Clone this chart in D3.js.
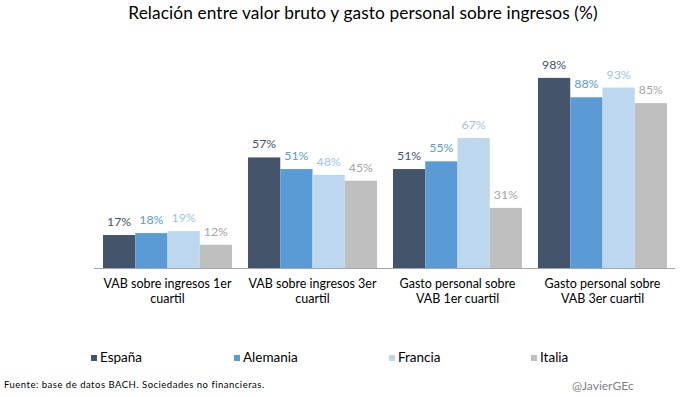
<!DOCTYPE html>
<html>
<head>
<meta charset="utf-8">
<script src="https://cdn.jsdelivr.net/npm/d3@7"></script>
<style>
  body { margin: 0; background: #fff; }
  svg { display: block; font-family: "Lato", "Open Sans", sans-serif; }
</style>
</head>
<body>
<div id="chart"></div>
<script>
// Data.
var categories = [
    ['VAB sobre ingresos 1er', 'cuartil'],
    ['VAB sobre ingresos 3er', 'cuartil'],
    ['Gasto personal sobre', 'VAB 1er cuartil'],
    ['Gasto personal sobre', 'VAB 3er cuartil']
];
var countries = ['España', 'Alemania', 'Francia', 'Italia'];
var espana   = [17, 57, 51, 98];
var alemania = [18, 51, 55, 88];
var francia  = [19, 48, 67, 93];
var italia   = [12, 45, 31, 85];

var barColors   = ['#44546A', '#5B9BD5', '#BDD7EE', '#BFBFBF'];
var labelColors = ['#44546A', '#5B9BD5', '#9DC3E6', '#A5A5A5'];

var W = 699, H = 397;
var plot = {left: 95, right: 675, top: 74, bottom: 268};

var svg = d3.select('#chart').append('svg')
    .attr('width', W)
    .attr('height', H);

var series = [espana, alemania, francia, italia];
var catIdx = d3.range(categories.length);

var x0 = d3.scaleBand()
    .domain(catIdx)
    .range([plot.left, plot.right])
    .paddingInner(0.11)
    .paddingOuter(0.055);

var x1 = d3.scaleBand()
    .domain(d3.range(countries.length))
    .range([0, x0.bandwidth()]);

var y = d3.scaleLinear()
    .domain([0, 100])
    .range([plot.bottom, plot.top]);

// Title.
svg.append('text')
    .attr('x', 363)
    .attr('y', 19)
    .attr('text-anchor', 'middle')
    .attr('font-size', 17.3)
    .attr('letter-spacing', 0.1)
    .attr('fill', '#000')
    .text('Relación entre valor bruto y gasto personal sobre ingresos (%)');

// Bars and value labels.
var groups = svg.selectAll('.group')
    .data(catIdx)
  .enter().append('g')
    .attr('class', 'group')
    .attr('transform', function(c) { return 'translate(' + x0(c) + ',0)'; });

groups.selectAll('rect')
    .data(function(c) { return series.map(function(s, i) { return {i: i, v: s[c]}; }); })
  .enter().append('rect')
    .attr('x', function(d) { return x1(d.i); })
    .attr('y', function(d) { return y(d.v); })
    .attr('width', x1.bandwidth())
    .attr('height', function(d) { return y(0) - y(d.v); })
    .attr('fill', function(d) { return barColors[d.i]; });

groups.selectAll('.val')
    .data(function(c) { return series.map(function(s, i) { return {i: i, v: s[c]}; }); })
  .enter().append('text')
    .attr('class', 'val')
    .attr('x', function(d) { return x1(d.i) + x1.bandwidth() / 2; })
    .attr('y', function(d) { return y(d.v) - 9; })
    .attr('text-anchor', 'middle')
    .attr('font-size', 12.3)
    .attr('fill', function(d) { return labelColors[d.i]; })
    .text(function(d) { return d.v + '%'; });

// Axis line.
svg.append('line')
    .attr('x1', plot.left - 1).attr('x2', plot.right)
    .attr('y1', y(0) + 0.5).attr('y2', y(0) + 0.5)
    .attr('stroke', '#A6A6A6')
    .attr('stroke-width', 1);

// Category labels (two lines each).
var catText = svg.selectAll('.cat')
    .data(catIdx)
  .enter().append('text')
    .attr('class', 'cat')
    .attr('text-anchor', 'middle')
    .attr('font-size', 12.5)
    .attr('fill', '#000');

catText.selectAll('tspan')
    .data(function(c) { return categories[c].map(function(t) { return {c: c, t: t}; }); })
  .enter().append('tspan')
    .attr('x', function(d) { return x0(d.c) + x0.bandwidth() / 2; })
    .attr('y', function(d, i) { return 288 + i * 15; })
    .text(function(d) { return d.t; });

// Legend.
var legendX = [91, 234, 389, 531];
var legend = svg.selectAll('.legend')
    .data(countries)
  .enter().append('g')
    .attr('class', 'legend')
    .attr('transform', function(d, i) { return 'translate(' + legendX[i] + ',355)'; });

legend.append('rect')
    .attr('width', 6).attr('height', 6)
    .attr('fill', function(d, i) { return barColors[i]; });

legend.append('text')
    .attr('x', 9)
    .attr('y', 7)
    .attr('font-size', 13.5)
    .attr('fill', '#000')
    .text(function(d) { return d; });

// Footer.
svg.append('text')
    .attr('x', 4)
    .attr('y', 388)
    .attr('font-size', 9.5)
    .attr('letter-spacing', 0.5)
    .attr('fill', '#000')
    .text('Fuente: base de datos BACH. Sociedades no financieras.');

svg.append('text')
    .attr('x', 572)
    .attr('y', 390)
    .attr('font-size', 12)
    .attr('fill', '#7F7F7F')
    .text('@JavierGEc');
</script>
</body>
</html>
